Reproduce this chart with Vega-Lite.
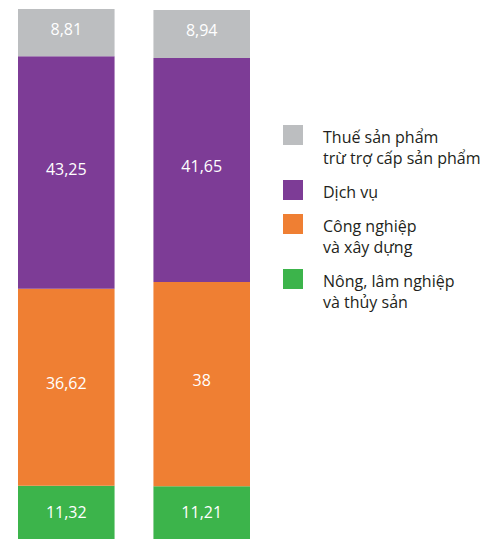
{
  "$schema": "https://vega.github.io/schema/vega-lite/v6.json",
  "width": 500,
  "height": 539,
  "autosize": {"type": "none"},
  "padding": 0,
  "config": {"view": {"stroke": null}, "style": {"guide-label": {"lineHeight": 21}}},
  "data": {
    "values": [
      {"bar": "1", "cat": "Nông, lâm nghiệp và thủy sản", "v": 11.32},
      {"bar": "1", "cat": "Công nghiệp và xây dựng", "v": 36.62},
      {"bar": "1", "cat": "Dịch vụ", "v": 43.25},
      {"bar": "1", "cat": "Thuế sản phẩm trừ trợ cấp sản phẩm", "v": 8.81},
      {"bar": "2", "cat": "Nông, lâm nghiệp và thủy sản", "v": 11.21},
      {"bar": "2", "cat": "Công nghiệp và xây dựng", "v": 38},
      {"bar": "2", "cat": "Dịch vụ", "v": 41.65},
      {"bar": "2", "cat": "Thuế sản phẩm trừ trợ cấp sản phẩm", "v": 8.94}
    ]
  },
  "transform": [
    {"calculate": "indexof(['Nông, lâm nghiệp và thủy sản', 'Công nghiệp và xây dựng', 'Dịch vụ', 'Thuế sản phẩm trừ trợ cấp sản phẩm'], datum.cat)", "as": "o"},
    {"stack": "v", "groupby": ["bar"], "sort": [{"field": "o", "order": "ascending"}], "as": ["y0", "y1"]},
    {"calculate": "(datum.y0 + datum.y1) / 2", "as": "ym"},
    {"calculate": "replace(toString(datum.v), '.', ',')", "as": "lbl"}
  ],
  "encoding": {
    "x": {"field": "bar", "type": "nominal", "scale": {"range": [18, 250], "paddingInner": 0.287, "paddingOuter": 0}, "axis": null}
  },
  "layer": [
    {
      "mark": {"type": "bar", "clip": true},
      "encoding": {
        "y": {"field": "y0", "type": "quantitative", "scale": {"domain": [1.4, 101.67], "nice": false, "zero": false}, "axis": null},
        "y2": {"field": "y1"},
        "color": {
          "field": "cat",
          "type": "nominal",
          "scale": {
            "domain": ["Thuế sản phẩm trừ trợ cấp sản phẩm", "Dịch vụ", "Công nghiệp và xây dựng", "Nông, lâm nghiệp và thủy sản"],
            "range": ["#bcbec0", "#7d3c96", "#ef7f33", "#3cb44b"]
          },
          "legend": {
            "orient": "none",
            "legendX": 283,
            "legendY": 120,
            "direction": "vertical",
            "title": null,
            "padding": 0,
            "symbolType": "M-1,-0.5L1,-0.5L1,1.5L-1,1.5Z",
            "symbolSize": 400,
            "symbolStrokeWidth": 0,
            "symbolOpacity": 1,
            "labelFont": "Open Sans",
            "labelFontSize": 16,
            "labelColor": "#231f20",
            "labelBaseline": "top",
            "labelOffset": 20,
            "labelLimit": 300,
            "rowPadding": 8,
            "labelExpr": "datum.label == 'Thuế sản phẩm trừ trợ cấp sản phẩm' ? ['Thuế sản phẩm', 'trừ trợ cấp sản phẩm'] : datum.label == 'Công nghiệp và xây dựng' ? ['Công nghiệp', 'và xây dựng'] : datum.label == 'Nông, lâm nghiệp và thủy sản' ? ['Nông, lâm nghiệp', 'và thủy sản'] : datum.label"
          }
        }
      }
    },
    {
      "mark": {"type": "text", "color": "white", "font": "Open Sans", "fontSize": 16, "baseline": "middle", "dy": -3},
      "encoding": {
        "y": {"field": "ym", "type": "quantitative"},
        "text": {"field": "lbl", "type": "nominal"}
      }
    }
  ]
}
